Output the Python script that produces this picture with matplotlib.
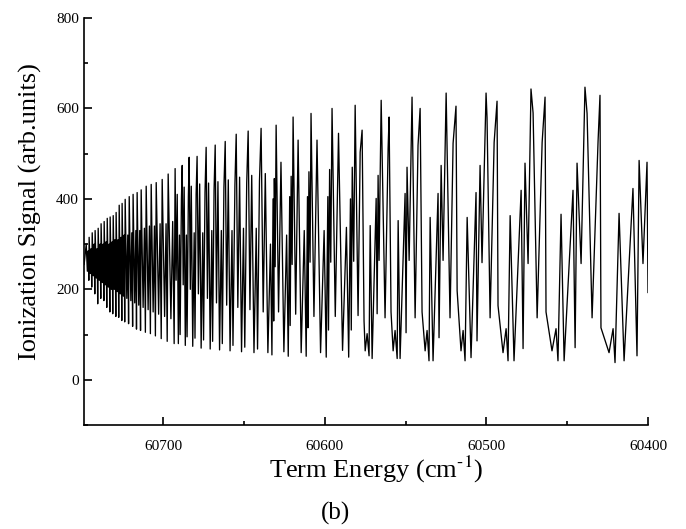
'''
Ionization spectrum of a Rydberg series, plotted against term energy
(axis runs from high to low energy, as in the original figure).
'''

import numpy as np
import matplotlib.pyplot as plt

plt.rcParams['font.family'] = ['Liberation Serif', 'DejaVu Serif']
plt.rcParams['mathtext.fontset'] = 'stix'

# ---------------------------------------------------------------------------
# Values (energy in cm-1, signal in arb. units)
# ---------------------------------------------------------------------------

# Dense part close to the series limit: each row = peak, dip, small peak, dip
head_e = [60748.9,
          60747.6, 60746.9, 60746.4, 60746.0,
          60745.8, 60745.0, 60744.5, 60744.2,
          60743.9, 60743.2, 60742.7, 60742.3,
          60742.1, 60741.3, 60740.8, 60740.5,
          60740.2, 60739.5, 60739.0, 60738.6,
          60738.4, 60737.6, 60737.1, 60736.7,
          60736.5, 60735.8, 60735.3, 60734.9,
          60734.6, 60733.9, 60733.4, 60733.0,
          60732.8, 60732.0, 60731.5, 60731.2,
          60730.9, 60730.2, 60729.7, 60729.3,
          60729.1, 60728.3, 60727.8, 60727.5,
          60727.2, 60726.5, 60726.0, 60725.6,
          60725.4, 60724.6, 60724.1, 60723.8,
          60723.5, 60722.5, 60721.9, 60721.4,
          60721.0, 60720.0, 60719.4, 60718.9,
          60718.6, 60717.6, 60716.9, 60716.5,
          60716.1, 60715.1, 60714.5, 60714.0,
          60713.6, 60712.4, 60711.6, 60711.0,
          60710.5, 60709.3, 60708.5, 60707.9,
          60707.4, 60706.2, 60705.4, 60704.8,
          60704.3, 60702.8, 60701.9, 60701.2,
          60700.6, 60699.1, 60698.2, 60697.5,
          60696.9, 60695.2, 60694.1, 60693.2]
head_s = [255,
          300, 240, 285, 220,
          315, 235, 290, 205,
          325, 230, 300, 190,
          330, 225, 290, 168,
          335, 220, 300, 180,
          345, 215, 300, 175,
          350, 210, 305, 160,
          357, 205, 300, 150,
          360, 200, 305, 146,
          363, 200, 310, 140,
          370, 195, 310, 138,
          386, 190, 315, 131,
          390, 185, 320, 128,
          399, 180, 320, 124,
          405, 175, 325, 118,
          410, 170, 330, 112,
          414, 165, 330, 109,
          420, 160, 335, 105,
          428, 155, 340, 102,
          432, 150, 340, 97,
          436, 145, 345, 91,
          443, 140, 345, 85,
          455, 135, 350, 80]

# Middle part: big peak, dip, second peak, trough, small peak, trough,
# (sharp peak, drop,) peak (, dip)
mid_e = [60692.6, 60692.0, 60691.3, 60690.6, 60689.9, 60689.5, 60688.7,
         60688.2, 60687.6, 60687.0, 60686.3, 60685.6, 60685.2, 60684.4,
         60683.9, 60683.2, 60682.6, 60681.7, 60680.8, 60680.3, 60679.6,
         60679.0, 60678.2, 60677.4, 60676.5, 60675.5, 60675.0, 60674.1,
         60673.4, 60672.6, 60671.9, 60670.9, 60669.9, 60669.4, 60668.5,
         60667.8, 60667.0, 60666.1, 60665.1, 60664.0, 60663.4, 60662.4,
         60661.6, 60660.7, 60659.7, 60658.6, 60657.4, 60656.8, 60655.6,
         60654.8, 60653.8, 60652.7, 60651.5, 60650.3, 60649.5, 60648.3,
         60647.4, 60646.3, 60645.2, 60643.8, 60642.4, 60641.6, 60640.4,
         60639.4, 60638.1, 60636.8, 60635.2, 60633.6, 60632.7,
         60632.0, 60631.6, 60631.2, 60630.7,
         60630.1, 60628.6, 60627.1, 60625.3, 60623.6, 60622.6,
         60621.7, 60621.4, 60620.8, 60620.2,
         60619.6, 60618.0, 60616.5, 60614.6, 60612.7, 60611.5,
         60610.7, 60610.4, 60609.8, 60609.1,
         60608.5, 60606.7, 60604.8, 60602.6, 60600.4, 60599.1,
         60598.1, 60597.7, 60597.0, 60596.3,
         60595.5, 60593.5, 60591.5, 60589.0, 60586.6, 60585.2,
         60584.1, 60583.6, 60583.0, 60582.1]
mid_s = [467, 220, 410, 80, 320, 100, 400,
         474, 210, 426, 76, 320, 95, 405,
         492, 200, 428, 74, 325, 92, 410,
         494, 190, 433, 70, 325, 88, 415,
         514, 180, 435, 68, 330, 85, 420,
         519, 170, 438, 66, 330, 80, 425,
         527, 165, 442, 64, 330, 76, 430,
         543, 160, 448, 62, 335, 72, 435,
         550, 155, 452, 60, 335, 68, 440,
         556, 150, 456, 60, 300, 55,
         400, 130, 445, 250,
         563, 150, 481, 62, 320, 52,
         405, 120, 450, 255,
         581, 145, 530, 60, 330, 52,
         405, 115, 460, 260,
         589, 140, 530, 60, 330, 50,
         405, 110, 465, 260,
         600, 140, 545, 65, 337, 50,
         400, 110, 470, 262]

# Resolved low-energy part, peak by peak
tail_e = [60581.2, 60579.4, 60578.1, 60576.9, 60575.7, 60575.0, 60573.8,
          60572.6, 60571.9, 60570.7, 60568.2, 60567.6, 60567.0, 60566.4,
          60565.1, 60562.7, 60560.8, 60560.2, 60559.0, 60557.7, 60556.5,
          60555.2, 60554.6, 60553.4, 60550.3, 60549.7, 60549.1, 60547.8,
          60546.0, 60544.1, 60542.3, 60541.0, 60539.8, 60537.9, 60536.7,
          60535.5, 60534.8, 60533.0, 60529.9, 60529.3, 60528.0, 60526.8,
          60524.9, 60522.5, 60520.6, 60518.8, 60518.1, 60515.7, 60514.4,
          60513.2, 60511.9, 60509.5, 60506.4, 60505.8, 60503.9, 60502.7,
          60500.2, 60499.6, 60497.7, 60495.2, 60493.4, 60492.8, 60489.7,
          60487.8, 60486.6, 60485.3, 60482.9, 60478.5, 60477.3, 60476.1,
          60474.2, 60472.4, 60471.1, 60468.6, 60465.5, 60463.7, 60463.1,
          60459.4, 60456.9, 60455.7, 60453.8, 60451.9, 60446.4, 60445.1,
          60443.9, 60441.4, 60439.0, 60437.7, 60434.6, 60430.9, 60429.7,
          60429.1, 60424.1, 60421.6, 60420.4, 60417.9, 60414.8, 60409.3,
          60406.8, 60405.5, 60403.1, 60400.6, 60400.0]
tail_s = [607, 142, 503, 552, 130, 64, 102,
          53, 341, 47, 401, 146, 452, 264,
          618, 137, 512, 581, 150, 64, 109,
          47, 352, 47, 412, 104, 470, 264,
          625, 137, 518, 600, 150, 64, 109,
          42, 359, 42, 412, 93, 474, 264,
          634, 137, 523, 605, 197, 64, 109,
          42, 359, 49, 414, 86, 474, 259,
          634, 580, 137, 525, 616, 164, 60,
          113, 42, 363, 42, 419, 69, 479,
          257, 643, 590, 137, 525, 625, 150,
          64, 113, 42, 366, 42, 419, 71,
          479, 257, 647, 589, 137, 527, 629,
          115, 60, 113, 38, 368, 42, 423,
          53, 485, 257, 481, 193]

energy = np.array(head_e + mid_e + tail_e)
signal = np.array(head_s + mid_s + tail_s)

# ---------------------------------------------------------------------------
fig = plt.figure(figsize=(6.86, 5.29), dpi=100)
ax = fig.add_axes([0.1224, 0.1966, 0.8222, 0.7694])

ax.plot(energy, signal, color='black', linewidth=0.95)

ax.set_xlim(60749, 60400)
ax.set_ylim(-100, 800)

ax.set_xticks([60700, 60600, 60500, 60400])
ax.set_xticks([60650, 60550, 60450], minor=True)
ax.set_yticks([0, 200, 400, 600, 800])
ax.set_yticks([-100, 100, 300, 500, 700], minor=True)

ax.tick_params(which='both', direction='in', width=1.2, labelsize=11)
ax.tick_params(which='major', length=6)
ax.tick_params(which='minor', length=3)
ax.tick_params(axis='x', pad=11)

for side in ['top', 'right']:
    ax.spines[side].set_visible(False)
for side in ['left', 'bottom']:
    ax.spines[side].set_linewidth(1.2)

ax.set_xlabel('Term Energy (cm$^{\u2010\\mathrm{1}}$)', fontsize=19)
ax.set_ylabel('Ionization Signal (arb.units)', fontsize=19)
ax.xaxis.set_label_coords(0.518, -0.072)
ax.yaxis.set_label_coords(-0.075, 0.525)

fig.text(0.489, 0.03, '(b)', fontsize=18, ha='center', va='center')

fig.savefig('out.png', dpi=100)
